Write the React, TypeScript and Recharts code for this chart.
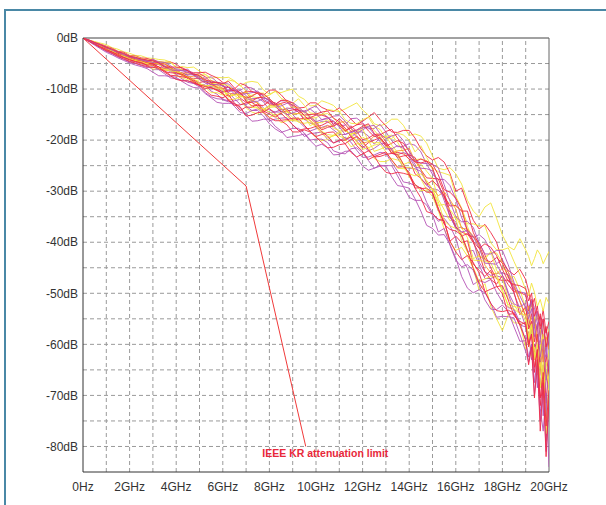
import {
  LineChart,
  Line,
  XAxis,
  YAxis,
  ReferenceLine,
  ReferenceDot,
} from "recharts"

const freqs = [
  0, 0.25, 0.5, 0.75, 1, 1.25, 1.5, 1.75, 2, 2.25,
  2.5, 2.75, 3, 3.25, 3.5, 3.75, 4, 4.25, 4.5, 4.75,
  5, 5.25, 5.5, 5.75, 6, 6.25, 6.5, 6.75, 7, 7.25,
  7.5, 7.75, 8, 8.25, 8.5, 8.75, 9, 9.25, 9.5, 9.75,
  10, 10.25, 10.5, 10.75, 11, 11.25, 11.5, 11.75, 12, 12.25,
  12.5, 12.75, 13, 13.25, 13.5, 13.75, 14, 14.25, 14.5, 14.75,
  15, 15.25, 15.5, 15.75, 16, 16.25, 16.5, 16.75, 17, 17.25,
  17.5, 17.75, 18, 18.25, 18.5, 18.75, 19,
  19.125, 19.25, 19.375, 19.5, 19.625, 19.75, 19.875, 20,
]

const yellow1 = [
  0, -0.4, -0.7, -1.0, -1.3, -1.9, -2.2, -2.7, -3.0, -3.4,
  -3.5, -3.9, -4.0, -4.2, -4.3, -4.7, -5.8, -5.6, -5.8, -5.7,
  -6.5, -7.1, -7.9, -7.7, -7.8, -7.7, -8.4, -9.4, -8.7, -8.5,
  -8.7, -10.2, -11.0, -10.5, -10.7, -10.3, -10.0, -11.4, -12.0, -13.3,
  -13.2, -12.3, -12.7, -13.2, -14.4, -13.9, -13.3, -12.7, -14.1, -15.1,
  -16.8, -17.2, -16.8, -15.9, -15.9, -17.1, -19.1, -18.8, -19.2, -20.6,
  -23.1, -25.5, -25.8, -25.4, -26.6, -28.6, -31.8, -33.9, -35.0, -33.1,
  -32.3, -35.3, -38.6, -40.8, -41.5, -39.3, -41.5,
  -42.8, -44.6, -43.2, -41.5, -42.4, -44.2, -43.0, -41.8,
]
const yellow2 = [
  0, -0.5, -0.8, -1.3, -1.7, -2.1, -2.7, -3.0, -3.5, -3.6,
  -4.0, -4.3, -4.4, -4.7, -4.7, -4.7, -5.7, -6.2, -7.1, -7.0,
  -7.3, -7.2, -8.3, -8.7, -9.1, -8.2, -8.5, -9.3, -10.4, -11.5,
  -11.7, -11.5, -11.2, -10.4, -11.8, -12.4, -12.8, -11.9, -13.2, -14.7,
  -14.8, -15.0, -14.0, -14.2, -14.4, -16.0, -16.7, -16.8, -16.0, -15.5,
  -17.3, -17.9, -19.6, -19.7, -18.6, -19.0, -20.0, -22.3, -21.1, -23.4,
  -25.4, -26.2, -26.5, -26.9, -31.0, -33.3, -36.4, -36.4, -36.8, -36.8,
  -40.1, -41.5, -41.5, -41.1, -43.8, -46.3, -49.3,
  -50.5, -48.0, -49.8, -52.6, -51.2, -53.5, -50.8, -52.0,
]
const yellow3 = [
  0, -0.5, -1.1, -1.4, -2.1, -2.4, -3.1, -3.3, -3.9, -4.3,
  -4.4, -4.9, -4.5, -5.2, -5.7, -6.1, -6.1, -7.0, -7.6, -8.4,
  -8.2, -8.7, -8.5, -9.5, -10.1, -11.6, -11.0, -11.2, -10.6, -12.2,
  -12.7, -14.3, -13.6, -13.5, -12.9, -14.3, -14.9, -14.8, -15.2, -17.2,
  -16.5, -16.6, -16.0, -17.7, -18.1, -20.1, -18.7, -18.7, -17.8, -20.2,
  -20.5, -20.5, -19.2, -21.0, -22.4, -24.8, -24.3, -25.2, -24.7, -26.1,
  -27.5, -31.6, -33.6, -35.8, -34.9, -37.2, -39.1, -43.2, -42.7, -43.4,
  -41.8, -45.5, -47.0, -51.1, -52.3, -54.0, -53.0,
  -55.5, -58.8, -54.5, -60.5, -63.0, -58.0, -66.5, -61.0,
]
const yellow4 = [
  0, -0.6, -1.2, -1.7, -2.3, -2.8, -3.4, -3.7, -4.4, -4.5,
  -5.0, -5.2, -6.1, -6.0, -6.2, -6.2, -7.4, -7.8, -8.2, -8.0,
  -8.8, -9.6, -10.7, -10.7, -11.2, -10.8, -11.2, -12.1, -13.7, -14.5,
  -14.9, -14.0, -14.5, -15.2, -16.6, -16.2, -16.1, -15.6, -17.1, -18.3,
  -19.5, -20.1, -19.9, -19.0, -19.2, -19.7, -21.3, -20.7, -20.7, -21.4,
  -23.6, -24.2, -24.2, -23.6, -23.9, -24.7, -27.2, -28.7, -29.9, -29.8,
  -31.0, -33.8, -37.4, -39.9, -41.6, -41.0, -42.7, -45.1, -49.4, -48.1,
  -52.6, -55.0, -57.3, -54.2, -55.8, -55.8, -60.9,
  -58.5, -62.5, -60.5, -66.0, -63.5, -70.5, -65.0, -68.0,
]
const yellow5 = [
  0, -0.5, -1.1, -1.6, -2.2, -2.5, -3.2, -3.6, -4.0, -4.5,
  -4.6, -5.1, -5.4, -5.9, -6.1, -6.0, -6.4, -7.0, -7.8, -8.6,
  -9.0, -9.3, -9.3, -9.8, -10.2, -11.4, -11.1, -11.2, -11.9, -13.6,
  -13.7, -13.9, -13.3, -13.4, -13.7, -15.3, -16.2, -16.3, -15.8, -16.1,
  -17.1, -18.3, -18.9, -19.1, -18.3, -17.8, -19.0, -20.0, -19.4, -20.1,
  -22.2, -21.8, -21.3, -21.5, -23.1, -25.4, -26.6, -27.0, -26.6, -27.9,
  -29.6, -32.8, -32.6, -33.6, -35.3, -39.7, -41.9, -43.5, -43.6, -43.7,
  -44.1, -46.3, -49.3, -52.6, -53.1, -54.0, -54.3,
  -58.5, -56.0, -63.0, -60.0, -68.5, -63.5, -77.5, -67.0,
]
const yellow6 = [
  0, -0.5, -0.8, -1.4, -1.8, -2.4, -2.7, -3.2, -3.7, -3.9,
  -4.3, -4.4, -4.8, -4.7, -4.9, -5.7, -6.5, -7.1, -7.1, -7.1,
  -7.3, -8.2, -8.9, -9.0, -9.1, -9.3, -10.5, -11.5, -11.5, -11.2,
  -10.8, -10.8, -11.9, -13.0, -14.0, -14.0, -13.5, -13.6, -14.7, -15.7,
  -15.6, -15.0, -14.8, -15.7, -16.9, -18.1, -19.0, -18.3, -17.6, -17.0,
  -18.1, -19.4, -19.3, -19.0, -20.4, -22.4, -23.8, -23.8, -23.7, -24.0,
  -25.7, -28.5, -31.6, -32.4, -33.0, -33.8, -36.9, -39.9, -42.9, -42.9,
  -42.1, -42.1, -44.1, -47.0, -46.7, -49.3, -52.8,
  -54.5, -52.0, -56.0, -54.0, -58.5, -55.5, -61.0, -57.0,
]
const yellow7 = [
  0, -0.5, -1.1, -1.7, -2.2, -2.6, -3.3, -3.6, -4.2, -4.4,
  -4.8, -5.0, -5.4, -6.1, -6.3, -6.4, -6.6, -6.9, -7.7, -8.5,
  -9.2, -9.5, -9.7, -10.1, -10.9, -12.1, -12.0, -11.5, -11.5, -12.6,
  -13.8, -14.7, -15.5, -15.1, -14.7, -14.5, -15.5, -16.5, -16.7, -16.5,
  -17.4, -18.8, -19.5, -19.2, -18.6, -18.1, -18.9, -20.4, -21.8, -21.5,
  -21.0, -20.7, -22.3, -23.9, -25.5, -25.6, -25.3, -25.7, -27.6, -29.7,
  -29.6, -32.1, -35.8, -36.8, -37.3, -38.3, -41.6, -44.9, -47.7, -47.2,
  -46.7, -46.9, -49.7, -52.2, -52.6, -52.8, -55.5,
  -59.0, -56.5, -62.0, -64.5, -60.0, -70.0, -63.5, -67.0,
]

const red1 = [
  0, -0.4, -0.8, -1.2, -1.6, -2.0, -2.6, -2.8, -3.4, -3.5,
  -3.9, -4.0, -4.4, -4.6, -4.8, -4.7, -5.1, -6.0, -6.5, -6.8,
  -6.8, -6.7, -7.3, -7.8, -8.7, -9.7, -10.0, -8.9, -9.3, -10.5,
  -10.9, -11.2, -10.2, -10.2, -11.1, -12.4, -13.2, -13.7, -13.6, -12.7,
  -12.7, -13.6, -14.1, -14.4, -13.7, -14.7, -15.9, -17.0, -16.3, -15.5,
  -14.6, -16.0, -17.2, -18.4, -18.5, -18.1, -18.1, -19.6, -21.7, -23.1,
  -23.9, -23.4, -24.3, -26.5, -30.0, -29.4, -32.6, -35.7, -37.4, -36.5,
  -38.1, -40.0, -43.8, -45.5, -46.4, -45.3, -47.3,
  -49.5, -52.6, -51.0, -54.8, -56.5, -53.2, -57.8, -55.5,
]
const red2 = [
  0, -0.5, -0.9, -1.4, -1.8, -2.4, -2.8, -3.3, -3.6, -4.1,
  -4.2, -4.6, -4.3, -4.8, -5.6, -6.2, -6.7, -6.9, -6.8, -7.0,
  -7.4, -8.4, -8.4, -8.8, -9.3, -10.8, -11.0, -11.1, -10.4, -10.5,
  -10.8, -12.3, -12.9, -13.1, -12.8, -12.5, -13.8, -14.5, -16.0, -15.6,
  -15.1, -15.1, -15.5, -17.0, -15.8, -16.9, -18.3, -18.0, -17.3, -16.8,
  -18.7, -19.7, -21.2, -20.6, -20.1, -20.6, -22.2, -24.2, -23.7, -24.2,
  -25.4, -28.9, -31.0, -32.9, -32.8, -33.9, -33.9, -38.1, -40.5, -43.4,
  -43.9, -43.0, -44.1, -46.7, -49.7, -49.8, -50.4,
  -53.5, -51.5, -55.8, -57.0, -54.0, -59.5, -56.5, -61.0,
]
const red3 = [
  0, -0.5, -1.0, -1.6, -2.0, -2.6, -3.0, -3.6, -3.9, -4.4,
  -4.5, -4.9, -5.1, -5.7, -6.0, -5.9, -6.4, -6.9, -7.9, -8.3,
  -8.7, -8.5, -9.1, -9.7, -10.6, -10.3, -10.3, -10.7, -12.4, -13.3,
  -13.2, -13.2, -12.4, -12.7, -13.8, -14.9, -16.1, -15.9, -15.7, -15.7,
  -16.7, -18.0, -17.5, -17.2, -16.7, -17.6, -19.3, -20.2, -21.5, -20.5,
  -20.0, -19.5, -20.8, -22.6, -22.4, -22.7, -23.7, -26.6, -27.5, -28.7,
  -27.9, -29.1, -30.8, -35.0, -37.0, -38.8, -38.3, -40.1, -42.2, -45.8,
  -47.3, -48.2, -46.5, -48.3, -49.8, -54.2, -52.6,
  -57.0, -55.5, -61.5, -58.0, -64.0, -69.5, -62.0, -66.5,
]
const red4 = [
  0, -0.6, -1.1, -1.7, -2.3, -2.7, -3.4, -3.8, -4.3, -4.6,
  -4.9, -5.3, -5.0, -5.7, -6.4, -7.3, -7.4, -7.6, -7.8, -8.8,
  -9.3, -9.9, -9.7, -10.3, -10.8, -12.3, -12.9, -14.2, -13.5, -13.6,
  -12.9, -14.3, -14.9, -15.5, -14.7, -15.9, -17.0, -18.1, -17.8, -17.7,
  -17.3, -18.4, -19.2, -20.6, -20.0, -20.0, -19.3, -21.1, -22.2, -23.8,
  -23.2, -22.8, -22.3, -23.9, -25.3, -25.2, -26.3, -29.4, -29.3, -30.2,
  -30.2, -33.6, -36.0, -39.8, -38.8, -40.1, -39.7, -44.3, -45.5, -46.7,
  -45.5, -48.6, -50.1, -54.1, -54.0, -56.2, -55.7,
  -60.5, -58.0, -65.5, -61.0, -72.0, -67.0, -79.0, -70.0,
]
const red5 = [
  0, -0.6, -1.2, -1.9, -2.5, -3.0, -3.6, -4.1, -4.6, -4.9,
  -5.3, -5.6, -5.8, -5.6, -6.7, -7.4, -8.1, -8.4, -8.4, -8.7,
  -9.3, -10.3, -11.2, -11.4, -11.7, -11.1, -12.8, -13.5, -15.3, -15.1,
  -14.6, -14.5, -15.6, -16.2, -16.2, -17.0, -18.4, -18.4, -18.0, -18.4,
  -19.4, -20.5, -21.5, -21.4, -20.9, -20.7, -22.4, -23.3, -22.7, -22.1,
  -23.1, -25.0, -26.3, -26.6, -26.3, -26.5, -26.8, -29.4, -31.3, -34.0,
  -34.4, -35.5, -35.8, -39.8, -41.9, -43.4, -42.6, -44.0, -46.0, -49.6,
  -52.0, -53.4, -53.6, -53.3, -53.9, -56.3, -59.1,
  -64.0, -60.5, -70.5, -63.0, -77.0, -67.5, -82.0, -71.0,
]
const red6 = [
  0, -0.4, -0.9, -1.3, -1.8, -2.2, -2.7, -3.0, -3.6, -3.8,
  -4.1, -4.3, -4.5, -4.9, -5.7, -5.7, -5.7, -5.8, -6.4, -7.2,
  -7.0, -7.6, -8.7, -8.7, -8.9, -8.5, -9.8, -10.8, -11.8, -11.4,
  -10.7, -11.0, -11.9, -13.0, -12.2, -12.2, -12.7, -14.2, -15.1, -15.0,
  -14.9, -14.5, -14.3, -15.7, -16.4, -18.2, -17.6, -17.0, -16.8, -18.2,
  -19.3, -19.0, -18.3, -17.9, -19.6, -21.4, -23.1, -24.3, -24.5, -24.1,
  -24.7, -26.8, -29.7, -30.2, -31.4, -33.5, -37.9, -39.8, -41.2, -40.3,
  -41.0, -42.6, -45.3, -47.7, -48.3, -48.5, -49.1,
  -51.5, -50.0, -54.5, -52.5, -57.0, -55.0, -60.5, -57.5,
]
const red7 = [
  0, -0.5, -0.9, -1.5, -1.9, -2.5, -2.9, -3.4, -3.8, -4.1,
  -4.5, -4.6, -5.0, -4.9, -5.1, -5.7, -6.7, -7.3, -7.9, -7.9,
  -7.9, -8.1, -8.8, -9.6, -9.9, -9.6, -10.5, -11.8, -12.6, -12.3,
  -11.7, -11.6, -12.2, -13.4, -14.5, -14.3, -14.1, -13.9, -15.2, -16.2,
  -17.3, -17.1, -16.5, -16.3, -17.1, -18.3, -17.2, -18.3, -19.9, -19.6,
  -18.9, -18.8, -20.3, -22.0, -23.4, -23.1, -22.9, -23.4, -25.8, -27.4,
  -27.5, -27.6, -30.3, -33.9, -37.0, -38.0, -38.5, -39.0, -40.0, -42.5,
  -45.0, -47.2, -47.5, -47.4, -48.7, -51.6, -54.6,
  -56.5, -54.0, -59.5, -56.0, -65.0, -60.0, -71.5, -63.0,
]
const red8 = [
  0, -0.6, -1.1, -1.7, -2.2, -2.8, -3.2, -3.8, -4.2, -4.6,
  -4.8, -5.3, -5.3, -6.0, -6.6, -6.8, -6.9, -7.1, -7.7, -8.5,
  -9.2, -9.5, -9.8, -10.1, -11.0, -12.0, -13.2, -13.1, -12.7, -12.6,
  -13.4, -14.5, -13.8, -14.8, -16.1, -16.0, -15.7, -15.7, -17.1, -18.3,
  -19.3, -18.9, -18.5, -18.4, -19.7, -20.7, -19.9, -19.3, -20.2, -21.9,
  -23.3, -23.2, -22.8, -22.6, -22.8, -24.7, -26.7, -28.7, -29.5, -29.4,
  -30.4, -33.3, -36.5, -37.5, -37.8, -38.6, -41.6, -45.2, -48.0, -49.7,
  -49.2, -48.7, -48.5, -51.3, -54.4, -55.5, -56.1,
  -60.0, -58.0, -64.5, -61.0, -70.5, -65.5, -76.0, -69.0,
]
const orange1 = [
  0, -0.5, -1.0, -1.5, -1.9, -2.5, -2.9, -3.5, -3.8, -4.3,
  -4.3, -4.8, -5.0, -5.1, -5.1, -6.0, -6.6, -7.4, -7.6, -7.5,
  -7.7, -8.4, -9.2, -9.2, -9.8, -11.4, -11.1, -10.8, -10.6, -12.1,
  -12.8, -14.1, -13.2, -13.2, -12.9, -14.4, -14.9, -14.8, -14.3, -15.2,
  -16.4, -17.7, -17.2, -17.3, -16.5, -16.4, -17.8, -19.1, -20.6, -20.3,
  -19.2, -19.7, -20.7, -22.5, -22.1, -22.0, -21.6, -24.1, -25.7, -28.3,
  -29.5, -30.9, -30.1, -31.7, -33.5, -37.3, -37.4, -38.8, -40.7, -44.5,
  -46.0, -46.2, -45.1, -45.8, -48.3, -51.5, -54.3,
  -52.5, -56.8, -55.0, -59.5, -57.0, -63.5, -58.5, -61.0,
]

const purple1 = [
  0, -0.4, -0.9, -1.3, -1.7, -2.2, -2.7, -3.1, -3.5, -3.9,
  -4.0, -4.5, -4.1, -4.8, -5.4, -6.1, -6.0, -6.2, -6.1, -7.3,
  -7.5, -7.9, -7.6, -8.6, -9.1, -10.5, -10.2, -10.2, -9.6, -9.8,
  -10.6, -12.0, -12.7, -13.0, -12.3, -12.3, -13.4, -14.2, -14.3, -13.8,
  -13.3, -14.7, -15.5, -16.7, -17.1, -17.1, -15.8, -15.7, -16.6, -17.8,
  -17.7, -16.9, -18.4, -20.1, -21.3, -21.2, -20.7, -21.0, -22.3, -24.7,
  -26.7, -27.7, -27.7, -28.9, -31.6, -35.2, -37.6, -39.1, -38.5, -39.5,
  -41.7, -44.2, -43.4, -45.8, -49.3, -49.7, -50.0,
  -53.0, -51.2, -52.8, -56.0, -54.5, -58.5, -57.0, -60.5,
]
const purple2 = [
  0, -0.6, -1.0, -1.5, -2.1, -2.5, -3.0, -3.5, -3.8, -4.3,
  -4.5, -4.7, -5.4, -5.1, -5.6, -6.1, -7.1, -7.0, -7.2, -7.2,
  -8.1, -8.8, -9.7, -10.1, -10.5, -10.1, -10.2, -10.8, -12.2, -11.9,
  -11.8, -12.5, -14.1, -14.5, -14.5, -13.7, -13.9, -14.5, -15.9, -16.7,
  -16.9, -16.3, -16.4, -17.2, -18.4, -19.7, -19.5, -18.4, -18.4, -19.2,
  -20.8, -19.5, -21.0, -22.6, -22.9, -22.4, -23.0, -24.7, -27.5, -28.9,
  -29.5, -29.8, -31.1, -34.2, -37.4, -37.0, -38.0, -39.6, -43.9, -45.8,
  -46.5, -46.1, -46.0, -46.4, -50.1, -53.0, -56.6,
  -55.0, -58.2, -56.5, -61.0, -59.0, -63.5, -60.0, -65.0,
]
const purple3 = [
  0, -0.6, -1.2, -1.8, -2.4, -2.9, -3.5, -3.9, -4.5, -4.7,
  -5.1, -5.4, -6.2, -6.2, -6.3, -6.3, -7.2, -8.0, -8.7, -8.9,
  -9.1, -9.2, -10.4, -11.0, -12.1, -12.5, -12.3, -12.0, -13.4, -14.2,
  -13.9, -14.6, -16.2, -15.9, -15.7, -15.6, -17.0, -18.0, -19.3, -18.7,
  -18.6, -18.4, -19.9, -20.5, -20.2, -19.4, -20.4, -22.0, -23.4, -23.3,
  -22.9, -22.4, -22.6, -24.4, -26.1, -28.2, -28.4, -28.9, -29.4, -32.2,
  -34.3, -35.9, -35.3, -36.8, -39.2, -43.2, -45.1, -48.3, -47.5, -47.9,
  -47.3, -49.8, -51.7, -52.8, -53.1, -55.7, -59.3,
  -57.5, -63.0, -60.0, -68.5, -62.5, -74.0, -66.0, -70.5,
]
const purple4 = [
  0, -0.6, -1.3, -1.9, -2.6, -3.1, -3.7, -4.2, -4.7, -5.0,
  -5.4, -5.8, -5.6, -6.2, -7.0, -7.8, -8.0, -8.3, -8.4, -8.9,
  -9.6, -10.7, -11.5, -11.9, -12.0, -12.3, -13.4, -14.6, -14.8, -14.2,
  -14.2, -15.3, -16.8, -17.8, -18.5, -18.1, -17.7, -17.7, -18.6, -20.0,
  -19.8, -19.8, -20.5, -22.1, -22.5, -22.7, -21.7, -21.5, -22.5, -24.0,
  -25.5, -25.1, -25.0, -25.0, -27.0, -29.1, -31.2, -31.8, -31.8, -32.7,
  -34.7, -38.0, -37.3, -40.6, -43.5, -44.8, -44.4, -45.5, -48.3, -51.3,
  -53.1, -53.2, -52.3, -53.6, -56.6, -59.4, -59.3,
  -62.5, -60.0, -67.5, -63.0, -72.5, -77.0, -69.5, -84.0,
]
const purple5 = [
  0, -0.7, -1.4, -2.1, -2.8, -3.3, -3.9, -4.4, -4.9, -5.3,
  -5.6, -6.0, -6.7, -7.4, -7.4, -7.5, -7.7, -8.5, -9.2, -9.7,
  -9.8, -10.9, -11.7, -12.6, -12.8, -12.8, -12.8, -13.8, -15.1, -16.3,
  -16.2, -15.9, -15.9, -17.3, -18.2, -19.5, -19.3, -19.1, -18.8, -20.1,
  -21.2, -20.8, -21.5, -22.9, -22.8, -22.2, -22.1, -23.4, -25.1, -25.9,
  -25.5, -24.9, -25.1, -27.2, -28.9, -29.1, -29.4, -31.5, -33.9, -36.7,
  -37.3, -38.6, -38.5, -40.4, -43.1, -46.7, -49.0, -49.9, -49.3, -49.9,
  -51.9, -54.7, -54.5, -54.6, -54.8, -58.0, -61.4,
  -63.5, -60.0, -70.0, -64.5, -75.0, -68.0, -81.0, -71.5,
]
const purple6 = [
  0, -0.5, -1.0, -1.4, -1.9, -2.4, -2.8, -3.3, -3.7, -4.0,
  -4.3, -4.6, -4.3, -4.8, -5.6, -6.2, -6.4, -6.4, -6.7, -7.3,
  -8.1, -8.8, -9.1, -9.1, -9.4, -9.7, -11.0, -10.2, -11.3, -12.4,
  -12.4, -11.8, -12.0, -12.9, -14.3, -15.0, -14.7, -14.2, -14.4, -15.5,
  -16.4, -16.0, -15.6, -16.3, -17.4, -18.9, -18.5, -18.1, -17.6, -17.4,
  -18.9, -20.3, -21.7, -21.7, -21.1, -21.6, -23.3, -25.3, -25.5, -25.6,
  -26.0, -28.7, -31.8, -35.0, -37.2, -38.0, -37.7, -38.9, -41.1, -44.1,
  -44.2, -44.3, -46.4, -49.8, -52.1, -52.6, -52.0,
  -55.0, -53.0, -58.5, -56.0, -62.5, -59.0, -67.0, -63.0,
]
const purple7 = [
  0, -0.5, -1.1, -1.6, -2.1, -2.7, -3.1, -3.6, -4.0, -4.4,
  -4.7, -4.9, -5.0, -5.2, -6.0, -6.6, -6.7, -6.8, -7.4, -8.2,
  -9.0, -9.3, -9.5, -9.7, -10.1, -10.7, -11.9, -13.0, -13.0, -12.5,
  -12.6, -13.7, -14.6, -14.5, -14.0, -13.9, -15.0, -16.3, -17.4, -18.2,
  -17.8, -17.5, -17.1, -18.0, -18.9, -18.9, -18.3, -19.4, -21.1, -22.1,
  -21.6, -20.8, -20.6, -21.7, -23.5, -25.3, -25.5, -25.6, -26.1, -28.4,
  -30.5, -33.9, -34.9, -35.1, -36.0, -38.8, -41.8, -41.6, -44.4, -47.1,
  -47.1, -46.6, -46.9, -50.1, -53.5, -56.2, -56.6,
  -59.5, -57.0, -63.0, -60.5, -68.0, -64.0, -74.5, -67.5,
]
const purple8 = [
  0, -0.4, -0.9, -1.3, -1.8, -2.2, -2.7, -3.1, -3.6, -3.8,
  -4.2, -4.4, -4.8, -4.7, -4.8, -5.4, -6.2, -6.4, -6.4, -7.0,
  -7.8, -8.5, -8.6, -8.7, -8.9, -9.0, -10.2, -11.1, -10.9, -10.7,
  -10.4, -11.5, -12.4, -13.5, -13.3, -12.8, -12.6, -13.5, -14.6, -13.9,
  -14.8, -16.0, -15.8, -15.3, -15.2, -16.3, -17.6, -18.7, -18.0, -17.3,
  -17.1, -18.7, -19.7, -19.2, -18.8, -20.1, -22.2, -24.0, -24.5, -24.6,
  -24.8, -25.4, -28.7, -32.0, -35.0, -36.0, -35.9, -37.1, -40.1, -42.3,
  -42.3, -41.6, -41.6, -44.4, -47.9, -50.5, -52.9,
  -54.0, -51.5, -56.5, -53.5, -59.0, -55.0, -62.5, -57.5,
]

// IEEE KR mask: frequency (GHz) / attenuation (dB)
const limitFreqs = [0, 7, 9.56]
const limitValues = [0, -29, -80]

const yTicks = [0, -10, -20, -30, -40, -50, -60, -70, -80]
const xTicks = [0, 2, 4, 6, 8, 10, 12, 14, 16, 18, 20]
const gridX = [1, 2, 3, 4, 5, 6, 7, 8, 9, 10, 11, 12, 13, 14, 15, 16, 17, 18, 19]
const gridY = [-5, -10, -15, -20, -25, -30, -35, -40, -45, -50, -55, -60, -65, -70, -75, -80]

const YELLOW = "#f2e43c"
const RED = "#f02a46"
const PURPLE = "#b552b5"
const ORANGE = "#f7a02c"

const traces = [
  { key: "y1", color: YELLOW, values: yellow1 },
  { key: "p1", color: PURPLE, values: purple1 },
  { key: "r1", color: RED, values: red1 },
  { key: "y6", color: YELLOW, values: yellow6 },
  { key: "p7", color: PURPLE, values: purple7 },
  { key: "y2", color: YELLOW, values: yellow2 },
  { key: "p2", color: PURPLE, values: purple2 },
  { key: "r2", color: RED, values: red2 },
  { key: "r7", color: RED, values: red7 },
  { key: "y3", color: YELLOW, values: yellow3 },
  { key: "p3", color: PURPLE, values: purple3 },
  { key: "o1", color: ORANGE, values: orange1 },
  { key: "r3", color: RED, values: red3 },
  { key: "y7", color: YELLOW, values: yellow7 },
  { key: "p8", color: PURPLE, values: purple8 },
  { key: "y4", color: YELLOW, values: yellow4 },
  { key: "p4", color: PURPLE, values: purple4 },
  { key: "r4", color: RED, values: red4 },
  { key: "y5", color: YELLOW, values: yellow5 },
  { key: "p5", color: PURPLE, values: purple5 },
  { key: "r8", color: RED, values: red8 },
  { key: "r5", color: RED, values: red5 },
  { key: "p6", color: PURPLE, values: purple6 },
  { key: "r6", color: RED, values: red6 },
]

const data = freqs.map((f, i) => {
  const row: Record<string, number> = { f }
  traces.forEach((t) => {
    row[t.key] = t.values[i]
  })
  return row
})

const limitData = limitFreqs.map((f, i) => ({ f, limit: limitValues[i] }))

const FONT = "'Liberation Sans', Arial, Helvetica, sans-serif"
const tickStyle = { fontSize: 12, fill: "#333", fontFamily: FONT }

export default function App() {
  return (
    <div
      style={{
        position: "fixed",
        left: 0,
        top: 0,
        width: 606,
        height: 505,
        overflow: "hidden",
        background: "#fff",
      }}
    >
      <div
        style={{
          position: "absolute",
          left: 4,
          top: 9,
          width: 640,
          height: 540,
          borderTop: "2px solid #4a88a6",
          borderLeft: "2px solid #4a88a6",
        }}
      />
      <div style={{ position: "absolute", left: 0, top: 0 }}>
        <LineChart
          width={606}
          height={505}
          data={data}
          margin={{ top: 38, right: 57, bottom: 3, left: 13 }}
        >
          {gridX.map((x) => (
            <ReferenceLine
              key={`gx${x}`}
              x={x}
              stroke="#9a9a9a"
              strokeDasharray="4 3"
              strokeWidth={1}
            />
          ))}
          {gridY.map((y) => (
            <ReferenceLine
              key={`gy${y}`}
              y={y}
              stroke="#9a9a9a"
              strokeDasharray="4 3"
              strokeWidth={1}
            />
          ))}
          <ReferenceLine y={0} stroke="#444" strokeWidth={1} />
          <ReferenceLine x={20} stroke="#666" strokeWidth={1} />
          <XAxis
            dataKey="f"
            type="number"
            domain={[0, 20]}
            ticks={xTicks}
            height={30}
            tickLine={false}
            tickSize={0}
            tickMargin={10}
            axisLine={{ stroke: "#333" }}
            tick={tickStyle}
            tickFormatter={(v: number) => (v === 0 ? "0Hz" : `${v}GHz`)}
            allowDataOverflow
          />
          <YAxis
            type="number"
            domain={[-85, 0]}
            ticks={yTicks}
            width={70}
            tickLine={false}
            tickSize={0}
            tickMargin={5}
            axisLine={{ stroke: "#333" }}
            tick={tickStyle}
            tickFormatter={(v: number) => `${v}dB`}
            allowDataOverflow
          />
          {traces.map((t) => (
            <Line
              key={t.key}
              dataKey={t.key}
              type="linear"
              stroke={t.color}
              strokeWidth={1}
              strokeOpacity={0.9}
              dot={false}
              activeDot={false}
              isAnimationActive={false}
            />
          ))}
          <Line
            data={limitData}
            dataKey="limit"
            type="linear"
            stroke="#f03a3a"
            strokeWidth={1}
            dot={false}
            activeDot={false}
            isAnimationActive={false}
          />
          <ReferenceDot
            x={10.4}
            y={-81.4}
            r={0}
            fillOpacity={0}
            strokeOpacity={0}
            label={{
              value: "IEEE KR attenuation limit",
              position: "center",
              fill: "#e8283a",
              fontSize: 10.5,
              fontWeight: "bold",
              fontFamily: FONT,
            }}
          />
        </LineChart>
      </div>
    </div>
  )
}
